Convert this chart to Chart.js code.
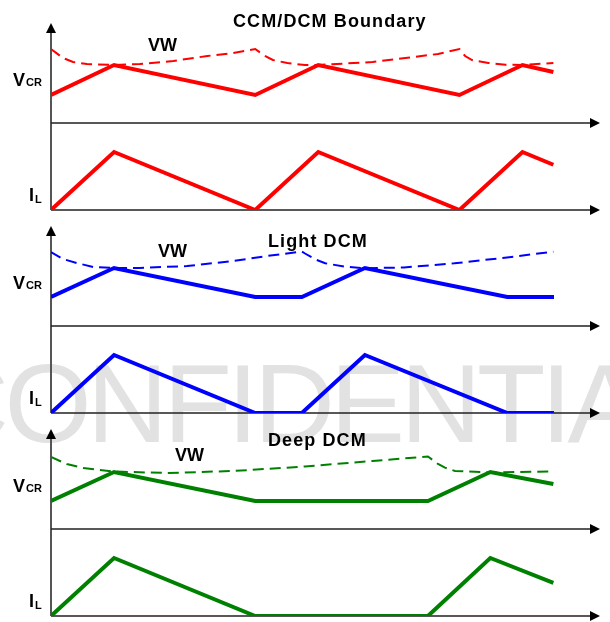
<!DOCTYPE html>
<html>
<head>
<meta charset="utf-8">
<script src="https://cdn.jsdelivr.net/npm/chart.js@4.4.0/dist/chart.umd.min.js"></script>
<style>
  html, body { margin: 0; padding: 0; background: #fff; }
  #wrap { position: relative; width: 610px; height: 622px; overflow: hidden; }
  #mark {
    position: absolute; left: -72px; top: 348px;
    font: 112px "Liberation Sans", Arial, sans-serif; line-height: 112px;
    letter-spacing: -4.5px; color: #e2e2e2; white-space: nowrap;
  }
  canvas { position: absolute; left: 0; }
</style>
</head>
<body>
<div id="wrap">
  <div id="mark">CONFIDENTIAL</div>
  <canvas id="c1" width="610" height="216" style="top:0px"></canvas>
  <canvas id="c2" width="610" height="216" style="top:203px"></canvas>
  <canvas id="c3" width="610" height="216" style="top:406px"></canvas>
</div>
<script>
// time axis (1 = rise time of IL), V and I in relative units
const X_MAX = 8.71;

// CCM/DCM boundary
const T_RED   = [0, 1, 3.24, 4.24, 6.48, 7.48, 7.97];
const VCR_RED = [0.28, 0.58, 0.28, 0.58, 0.28, 0.58, 0.51];
const IL_RED  = [0, 1, 0, 1, 0, 1, 0.78];
const VW_RED_T = [0, 0.19, 0.35, 0.57, 0.98, 1.41, 1.94, 2.48, 2.89, 3.24, 3.37, 3.52, 3.75, 4.03, 4.24, 5.10, 5.62, 6.14, 6.48, 6.57, 6.68, 6.94, 7.21, 7.48, 7.97];
const VW_RED   = [0.74, 0.65, 0.61, 0.59, 0.58, 0.59, 0.62, 0.67, 0.70, 0.74, 0.68, 0.63, 0.60, 0.58, 0.58, 0.61, 0.65, 0.69, 0.74, 0.67, 0.63, 0.60, 0.583, 0.58, 0.60];

// Light DCM
const T_BLUE   = [0, 1, 3.24, 3.98, 4.98, 7.24, 7.98];
const VCR_BLUE = [0.29, 0.58, 0.29, 0.29, 0.58, 0.29, 0.29];
const IL_BLUE  = [0, 1, 0, 0, 1, 0, 0];
const VW_BLUE_T = [0, 0.19, 0.41, 0.67, 0.98, 1.41, 2.16, 2.89, 3.43, 3.98, 4.03, 4.19, 4.35, 4.67, 4.98, 5.6, 6.4, 7.2, 7.97];
const VW_BLUE   = [0.74, 0.67, 0.63, 0.59, 0.58, 0.58, 0.60, 0.65, 0.70, 0.745, 0.725, 0.667, 0.627, 0.593, 0.578, 0.585, 0.627, 0.683, 0.743];

// Deep DCM
const T_GREEN   = [0, 1, 3.24, 5.98, 6.97, 7.97];
const VCR_GREEN = [0.28, 0.57, 0.28, 0.28, 0.57, 0.45];
const IL_GREEN  = [0, 1, 0, 0, 1, 0.57];
const VW_GREEN_T = [0, 0.25, 0.51, 0.98, 1.84, 2.89, 4.03, 5.10, 5.98, 6.14, 6.25, 6.41, 6.97, 7.97];
const VW_GREEN   = [0.72, 0.65, 0.61, 0.575, 0.56, 0.58, 0.625, 0.68, 0.725, 0.65, 0.613, 0.58, 0.565, 0.575];

function pts(ts, vs) { return ts.map((t, i) => ({x: t, y: vs[i]})); }

function arrow(ctx, x, y, dir) {
  ctx.beginPath();
  if (dir === 'up') { ctx.moveTo(x, y); ctx.lineTo(x - 5, y + 10); ctx.lineTo(x + 5, y + 10); }
  else { ctx.moveTo(x, y); ctx.lineTo(x - 10, y - 5); ctx.lineTo(x - 10, y + 5); }
  ctx.closePath();
  ctx.fill();
}

function label(ctx, main, sub, x, y, subDrop) {
  ctx.font = 'bold 18px "Liberation Sans", Arial, sans-serif';
  ctx.fillText(main, x, y);
  const w = ctx.measureText(main).width;
  ctx.font = 'bold 11px "Liberation Sans", Arial, sans-serif';
  ctx.fillText(sub, x + w + 1, y + subDrop);
}

// axes with arrows and the text of each panel
const panelDecor = {
  id: 'panelDecor',
  beforeDatasetsDraw(chart, args, o) {
    const ctx = chart.ctx, a = chart.chartArea;
    const midY = chart.scales.yV.bottom, botY = chart.scales.yI.bottom;
    ctx.save();
    ctx.strokeStyle = '#555';
    ctx.lineWidth = 2;
    ctx.beginPath();
    ctx.moveTo(a.left, a.top + 8); ctx.lineTo(a.left, botY);
    ctx.stroke();
    ctx.strokeStyle = '#222';
    ctx.lineWidth = 1.5;
    ctx.beginPath();
    [midY, botY].forEach(y => { ctx.moveTo(a.left, y); ctx.lineTo(a.right - 8, y); });
    ctx.stroke();
    ctx.fillStyle = '#000';
    arrow(ctx, a.left, a.top, 'up');
    arrow(ctx, a.right, midY, 'right');
    arrow(ctx, a.right, botY, 'right');

    ctx.textBaseline = 'alphabetic';
    ctx.textAlign = 'left';
    label(ctx, 'V', 'CR', 13, midY - 37, 0);
    label(ctx, 'I', 'L', 29, botY - 9, 2);
    ctx.font = 'bold 18px "Liberation Sans", Arial, sans-serif';
    ctx.fillText('VW', o.vwX, o.vwY);
    ctx.letterSpacing = '1.1px';
    ctx.fillText(o.title, o.titleX, o.titleY);
    ctx.restore();
  }
};

function panel(id, color, vwT, vw, t, vcr, il, text) {
  new Chart(document.getElementById(id), {
    type: 'line',
    data: {
      datasets: [
        {label: 'VW', data: pts(vwT, vw), yAxisID: 'yV', borderColor: color, borderWidth: 2, borderDash: [11, 6]},
        {label: 'VCR', data: pts(t, vcr), yAxisID: 'yV', borderColor: color, borderWidth: 4},
        {label: 'IL', data: pts(t, il), yAxisID: 'yI', borderColor: color, borderWidth: 4}
      ]
    },
    options: {
      responsive: false,
      animation: false,
      elements: {point: {radius: 0}, line: {tension: 0, fill: false}},
      layout: {padding: {left: 51, right: 10, top: 23, bottom: 6}},
      scales: {
        x: {type: 'linear', min: 0, max: X_MAX, display: false},
        yI: {type: 'linear', min: 0, max: 1.5, display: false, position: 'left', stack: 'p', stackWeight: 87},
        yV: {type: 'linear', min: 0, max: 1, display: false, position: 'left', stack: 'p', stackWeight: 100}
      },
      plugins: {legend: {display: false}, tooltip: {enabled: false}, panelDecor: text}
    },
    plugins: [panelDecor]
  });
}

panel('c1', '#ff0000', VW_RED_T, VW_RED, T_RED, VCR_RED, IL_RED,
  {title: 'CCM/DCM Boundary', titleX: 233, titleY: 27, vwX: 148, vwY: 51});
panel('c2', '#0000ff', VW_BLUE_T, VW_BLUE, T_BLUE, VCR_BLUE, IL_BLUE,
  {title: 'Light DCM', titleX: 268, titleY: 44, vwX: 158, vwY: 54});
panel('c3', '#008000', VW_GREEN_T, VW_GREEN, T_GREEN, VCR_GREEN, IL_GREEN,
  {title: 'Deep DCM', titleX: 268, titleY: 40, vwX: 175, vwY: 55});
</script>
</body>
</html>
